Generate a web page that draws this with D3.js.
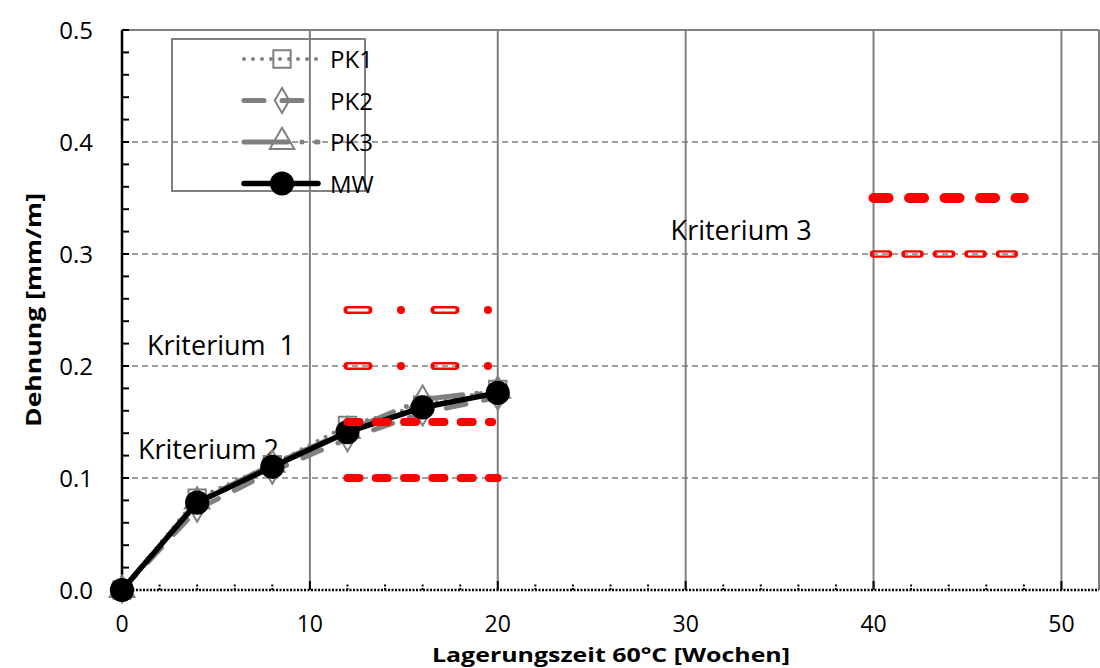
<!DOCTYPE html>
<html>
<head>
<meta charset="utf-8">
<script src="https://cdn.jsdelivr.net/npm/d3@7"></script>
<style>
  body { margin: 0; background: #fff; }
  text { font-family: "Open Sans", sans-serif; fill: #000; }
</style>
</head>
<body>
<svg width="1100" height="668"></svg>
<script>
// data
const weeks = [0, 4, 8, 12, 16, 20];
const pk1 = [0, 0.082, 0.112, 0.147, 0.165, 0.179];
const pk2 = [0, 0.072, 0.106, 0.135, 0.158, 0.172];
const pk3 = [0, 0.079, 0.112, 0.142, 0.170, 0.178];
const mw  = [0, 0.078, 0.110, 0.141, 0.163, 0.176];

const seriesNames = ["PK1", "PK2", "PK3", "MW"];

// criterion lines: level, from week, to week, group
const critY    = [0.25, 0.2, 0.15, 0.1, 0.35, 0.3];
const critFrom = [12, 12, 12, 12, 40, 40];
const critTo   = [19.5, 19.5, 19.7, 20, 48, 47.5];
const critType = ["k1", "k1", "k2", "k2", "k3a", "k3b"];

const labels = ["Kriterium  1", "Kriterium 2", "Kriterium 3"];
const labelX = [1.33, 0.85, 29.2];
const labelY = [0.21, 0.117, 0.3125];

const xTicks = [0, 10, 20, 30, 40, 50];
const yTicks = [0, 0.1, 0.2, 0.3, 0.4, 0.5];

const svg = d3.select("svg"),
      margin = {top: 30, right: 1, bottom: 78, left: 122},
      width = +svg.attr("width") - margin.left - margin.right,
      height = +svg.attr("height") - margin.top - margin.bottom;

const g = svg.append("g")
    .attr("transform", `translate(${margin.left},${margin.top})`);

const x = d3.scaleLinear().domain([0, 52]).range([0, width]);
const y = d3.scaleLinear().domain([0, 0.5]).range([height, 0]);

const grey = "#808080";

// grid
g.selectAll(".hgrid")
    .data(yTicks.filter(d => d > 0 && d < 0.5))
    .enter().append("line")
    .attr("x1", 0).attr("x2", width)
    .attr("y1", d => y(d)).attr("y2", d => y(d))
    .attr("stroke", grey).attr("stroke-width", 1.5)
    .attr("stroke-dasharray", "6 4");

g.append("line")
    .attr("x1", 0).attr("x2", width)
    .attr("y1", y(0.5)).attr("y2", y(0.5))
    .attr("stroke", grey).attr("stroke-width", 2);

g.selectAll(".vgrid")
    .data(xTicks.filter(d => d > 0).concat([52]))
    .enter().append("line")
    .attr("x1", d => x(d)).attr("x2", d => x(d))
    .attr("y1", 0).attr("y2", height)
    .attr("stroke", grey).attr("stroke-width", 2);

// axes
const xAxis = g.append("g").attr("transform", `translate(0,${height})`);
xAxis.append("line")
    .attr("x1", 0).attr("x2", width)
    .attr("stroke", "#000").attr("stroke-width", 2.5)
    .attr("stroke-dasharray", "2 1.5");
xAxis.selectAll(".xminor")
    .data(d3.range(2, 52, 2))
    .enter().append("line")
    .attr("x1", d => x(d)).attr("x2", d => x(d))
    .attr("y1", 0).attr("y2", d => d % 10 === 0 ? -9 : -7)
    .attr("stroke", "#000").attr("stroke-width", 2)
    .attr("stroke-dasharray", d => d % 10 === 0 ? null : "2 1.5");
xAxis.selectAll(".xlabel")
    .data(xTicks)
    .enter().append("text")
    .attr("x", d => x(d)).attr("y", 42)
    .attr("text-anchor", "middle")
    .style("font-size", "23px")
    .text(d => d);

const yAxis = g.append("g");
yAxis.append("line")
    .attr("x1", 0).attr("x2", 0).attr("y1", 0).attr("y2", height)
    .attr("stroke", "#000").attr("stroke-width", 2.5);
yAxis.selectAll(".yminor")
    .data(d3.range(0, 26).map(i => i * 0.02))
    .enter().append("line")
    .attr("x1", 0).attr("x2", 7)
    .attr("y1", d => y(d)).attr("y2", d => y(d))
    .attr("stroke", "#000").attr("stroke-width", 2);
yAxis.selectAll(".ylabel")
    .data(yTicks)
    .enter().append("text")
    .attr("x", -29).attr("y", d => y(d) + 9)
    .attr("text-anchor", "end")
    .style("font-size", "24px")
    .text(d => d.toFixed(1));

// axis titles
svg.append("text")
    .attr("x", 611).attr("y", 662)
    .attr("text-anchor", "middle")
    .attr("textLength", 358).attr("lengthAdjust", "spacingAndGlyphs")
    .style("font-size", "20px").style("font-weight", "bold")
    .text("Lagerungszeit 60°C [Wochen]");

svg.append("text")
    .attr("transform", "translate(41,310) rotate(-90)")
    .attr("text-anchor", "middle")
    .attr("textLength", 234).attr("lengthAdjust", "spacingAndGlyphs")
    .style("font-size", "22px").style("font-weight", "bold")
    .text("Dehnung [mm/m]");

// annotations
g.selectAll(".krit")
    .data(labels)
    .enter().append("text")
    .attr("x", (d, i) => x(labelX[i]))
    .attr("y", (d, i) => y(labelY[i]))
    .style("font-size", "27px")
    .style("white-space", "pre")
    .text(d => d);

// series
const styles = {
    PK1: {stroke: grey, width: 4, dash: "0 9", cap: "round", marker: "square", size: 300},
    PK2: {stroke: grey, width: 5, dash: "20 18", cap: "round", marker: "diamond", size: 180},
    PK3: {stroke: grey, width: 5, dash: "44 14 0 14", cap: "round", marker: "triangle", size: 260},
    MW:  {stroke: "#000", width: 5.5, dash: null, cap: "round", marker: "circle", size: 460}
};
const symbolType = {
    square: d3.symbolSquare, diamond: d3.symbolDiamond,
    triangle: d3.symbolTriangle, circle: d3.symbolCircle
};

const seriesData = [pk1, pk2, pk3, mw].map(vals => weeks.map((w, i) => ({w: w, v: vals[i]})));

const line = d3.line().x(d => x(d.w)).y(d => y(d.v));

function drawMarker(sel, name, cx, cy) {
    const s = styles[name];
    const filled = name === "MW";
    sel.append("path")
        .attr("transform", `translate(${cx},${cy})`)
        .attr("d", d3.symbol().type(symbolType[s.marker]).size(s.size)())
        .attr("fill", filled ? "#000" : "none")
        .attr("stroke", s.stroke)
        .attr("stroke-width", filled ? 0 : 2);
}

seriesNames.forEach((name, k) => {
    const s = styles[name];
    g.append("path")
        .datum(seriesData[k])
        .attr("fill", "none")
        .attr("stroke", s.stroke)
        .attr("stroke-width", s.width)
        .attr("stroke-linecap", s.cap)
        .attr("stroke-linejoin", "round")
        .attr("stroke-dasharray", s.dash)
        .attr("d", line);
    seriesData[k].forEach(d => drawMarker(g, name, x(d.w), y(d.v)));
});

// criterion lines
const critStyle = {
    k1:  {width: 8, dash: "21 32.5 0 33.5", hollow: "21 66", inner: 3},
    k2:  {width: 8, dash: "12 16.3", hollow: null},
    k3a: {width: 10, dash: "15 20.5", hollow: null},
    k3b: {width: 7.5, dash: "15 16.5", hollow: "15 16.5", inner: 3}
};
const defs = svg.append("defs");

critY.forEach((lv, i) => {
    const st = critStyle[critType[i]];
    const x1 = x(critFrom[i]), x2 = x(critTo[i]), yy = y(lv);
    const p = g.append("line")
        .attr("x1", x1).attr("x2", x2).attr("y1", yy).attr("y2", yy)
        .attr("stroke", "#ff0000")
        .attr("stroke-width", st.width)
        .attr("stroke-linecap", "round")
        .attr("stroke-dasharray", st.dash);
    if (st.hollow) {
        // cut the middle out of each dash so the grid shows through
        const id = "crit-mask-" + i;
        const m = defs.append("mask")
            .attr("id", id)
            .attr("maskUnits", "userSpaceOnUse")
            .attr("x", -200).attr("y", -200).attr("width", 1400).attr("height", 1000);
        m.append("rect").attr("x", -200).attr("y", -200)
            .attr("width", 1400).attr("height", 1000).attr("fill", "#fff");
        m.append("line")
            .attr("x1", x1).attr("x2", x2)
            .attr("y1", yy).attr("y2", yy)
            .attr("stroke", "#000")
            .attr("stroke-width", st.inner)
            .attr("stroke-linecap", "butt")
            .attr("stroke-dasharray", st.hollow);
        p.attr("mask", `url(#${id})`);
    }
});

// legend
const legend = svg.append("g");
legend.append("rect")
    .attr("x", 172).attr("y", 39)
    .attr("width", 193).attr("height", 152)
    .attr("fill", "none")
    .attr("stroke", grey).attr("stroke-width", 2);

seriesNames.forEach((name, i) => {
    const s = styles[name];
    const ly = 59 + i * 41.5;
    legend.append("line")
        .attr("x1", 244).attr("x2", 318)
        .attr("y1", ly).attr("y2", ly)
        .attr("stroke", s.stroke)
        .attr("stroke-width", s.width)
        .attr("stroke-linecap", s.cap)
        .attr("stroke-dasharray", s.dash);
    drawMarker(legend, name, 282, ly);
    legend.append("text")
        .attr("x", 330).attr("y", ly + 9)
        .style("font-size", "24px")
        .text(name);
});
</script>
</body>
</html>
